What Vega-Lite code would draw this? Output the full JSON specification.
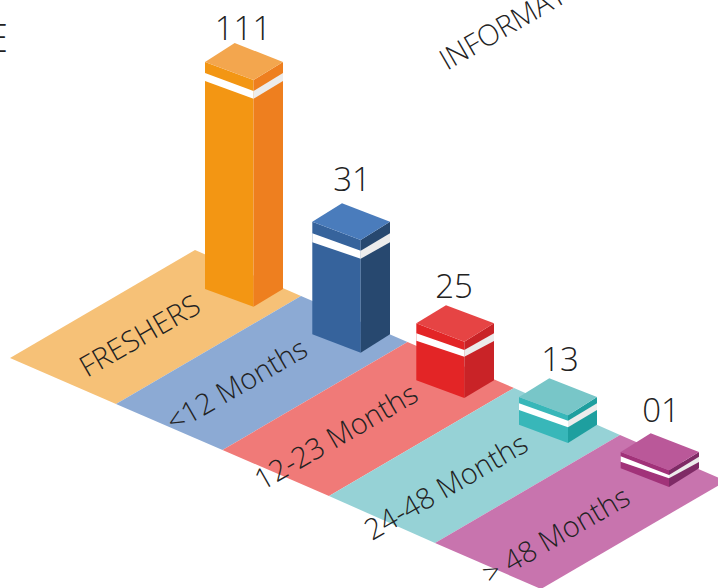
{
"$schema":"https://vega.github.io/schema/vega-lite/v6.json",
"width":718,"height":588,"padding":0,"autosize":"none","background":"white",
"config":{"view":{"stroke":null},"text":{"font":"Open Sans","color":"#333333"}},
"layer":[
{"data":{"values":[
{"s":"f1","p":"floorFreshers","k":1,"x":10,"y":358},{"s":"f1","p":"floorFreshers","k":2,"x":195,"y":250},{"s":"f1","p":"floorFreshers","k":3,"x":301,"y":296},{"s":"f1","p":"floorFreshers","k":4,"x":116,"y":404},
{"s":"f2","p":"floor12","k":1,"x":116,"y":404},{"s":"f2","p":"floor12","k":2,"x":301,"y":296},{"s":"f2","p":"floor12","k":3,"x":407.5,"y":342},{"s":"f2","p":"floor12","k":4,"x":222.5,"y":450},
{"s":"f3","p":"floor23","k":1,"x":222.5,"y":450},{"s":"f3","p":"floor23","k":2,"x":407.5,"y":342},{"s":"f3","p":"floor23","k":3,"x":514,"y":388},{"s":"f3","p":"floor23","k":4,"x":329,"y":496},
{"s":"f4","p":"floor48","k":1,"x":329,"y":496},{"s":"f4","p":"floor48","k":2,"x":514,"y":388},{"s":"f4","p":"floor48","k":3,"x":620,"y":435},{"s":"f4","p":"floor48","k":4,"x":435,"y":543},
{"s":"f5","p":"floorOver","k":1,"x":435,"y":543},{"s":"f5","p":"floorOver","k":2,"x":620,"y":435},{"s":"f5","p":"floorOver","k":3,"x":726,"y":481},{"s":"f5","p":"floorOver","k":4,"x":541,"y":589},

{"s":"a1","p":"orangeFront","k":1,"x":205,"y":62},{"s":"a1","p":"orangeFront","k":2,"x":253.5,"y":80},{"s":"a1","p":"orangeFront","k":3,"x":253.5,"y":306.7},{"s":"a1","p":"orangeFront","k":4,"x":205,"y":289},
{"s":"a2","p":"orangeSide","k":1,"x":253.5,"y":80},{"s":"a2","p":"orangeSide","k":2,"x":283,"y":62},{"s":"a2","p":"orangeSide","k":3,"x":283,"y":289},{"s":"a2","p":"orangeSide","k":4,"x":253.5,"y":306.7},
{"s":"a3","p":"orangeTop","k":1,"x":234.7,"y":43},{"s":"a3","p":"orangeTop","k":2,"x":283,"y":62},{"s":"a3","p":"orangeTop","k":3,"x":253.5,"y":80},{"s":"a3","p":"orangeTop","k":4,"x":205,"y":62},
{"s":"a4","p":"bandFront","k":1,"x":205,"y":73},{"s":"a4","p":"bandFront","k":2,"x":253.5,"y":91},{"s":"a4","p":"bandFront","k":3,"x":253.5,"y":98.7},{"s":"a4","p":"bandFront","k":4,"x":205,"y":81},
{"s":"a5","p":"bandSide","k":1,"x":253.5,"y":91},{"s":"a5","p":"bandSide","k":2,"x":283,"y":73},{"s":"a5","p":"bandSide","k":3,"x":283,"y":81},{"s":"a5","p":"bandSide","k":4,"x":253.5,"y":98.7},

{"s":"b1","p":"blueFront","k":1,"x":312.3,"y":221.7},{"s":"b1","p":"blueFront","k":2,"x":360.7,"y":240},{"s":"b1","p":"blueFront","k":3,"x":360.7,"y":352.7},{"s":"b1","p":"blueFront","k":4,"x":312.3,"y":334.3},
{"s":"b2","p":"blueSide","k":1,"x":360.7,"y":240},{"s":"b2","p":"blueSide","k":2,"x":390,"y":221.7},{"s":"b2","p":"blueSide","k":3,"x":390,"y":334.3},{"s":"b2","p":"blueSide","k":4,"x":360.7,"y":352.7},
{"s":"b3","p":"blueTop","k":1,"x":342,"y":203.3},{"s":"b3","p":"blueTop","k":2,"x":390,"y":221.7},{"s":"b3","p":"blueTop","k":3,"x":360.7,"y":240},{"s":"b3","p":"blueTop","k":4,"x":312.3,"y":221.7},
{"s":"b4","p":"bandFront","k":1,"x":312.3,"y":233.3},{"s":"b4","p":"bandFront","k":2,"x":360.7,"y":250.7},{"s":"b4","p":"bandFront","k":3,"x":360.7,"y":258.7},{"s":"b4","p":"bandFront","k":4,"x":312.3,"y":242.3},
{"s":"b5","p":"bandSide","k":1,"x":360.7,"y":250.7},{"s":"b5","p":"bandSide","k":2,"x":390,"y":233.3},{"s":"b5","p":"bandSide","k":3,"x":390,"y":242.3},{"s":"b5","p":"bandSide","k":4,"x":360.7,"y":258.7},

{"s":"c1","p":"redFront","k":1,"x":416.3,"y":323.3},{"s":"c1","p":"redFront","k":2,"x":464.3,"y":341.7},{"s":"c1","p":"redFront","k":3,"x":464.3,"y":398},{"s":"c1","p":"redFront","k":4,"x":416.3,"y":380.3},
{"s":"c2","p":"redSide","k":1,"x":464.3,"y":341.7},{"s":"c2","p":"redSide","k":2,"x":494,"y":323.3},{"s":"c2","p":"redSide","k":3,"x":494,"y":380.3},{"s":"c2","p":"redSide","k":4,"x":464.3,"y":398},
{"s":"c3","p":"redTop","k":1,"x":446,"y":305.3},{"s":"c3","p":"redTop","k":2,"x":494,"y":323.3},{"s":"c3","p":"redTop","k":3,"x":464.3,"y":341.7},{"s":"c3","p":"redTop","k":4,"x":416.3,"y":323.3},
{"s":"c4","p":"bandFront","k":1,"x":416.3,"y":333.3},{"s":"c4","p":"bandFront","k":2,"x":464.3,"y":350},{"s":"c4","p":"bandFront","k":3,"x":464.3,"y":356.7},{"s":"c4","p":"bandFront","k":4,"x":416.3,"y":340.7},
{"s":"c5","p":"bandSide","k":1,"x":464.3,"y":350},{"s":"c5","p":"bandSide","k":2,"x":494,"y":333.3},{"s":"c5","p":"bandSide","k":3,"x":494,"y":341},{"s":"c5","p":"bandSide","k":4,"x":464.3,"y":356.7},

{"s":"d1","p":"tealFront","k":1,"x":519,"y":397},{"s":"d1","p":"tealFront","k":2,"x":568,"y":415.3},{"s":"d1","p":"tealFront","k":3,"x":568,"y":443},{"s":"d1","p":"tealFront","k":4,"x":519,"y":424.7},
{"s":"d2","p":"tealSide","k":1,"x":568,"y":415.3},{"s":"d2","p":"tealSide","k":2,"x":597,"y":397},{"s":"d2","p":"tealSide","k":3,"x":597,"y":424.7},{"s":"d2","p":"tealSide","k":4,"x":568,"y":443},
{"s":"d3","p":"tealTop","k":1,"x":549.3,"y":378.3},{"s":"d3","p":"tealTop","k":2,"x":597,"y":397},{"s":"d3","p":"tealTop","k":3,"x":568,"y":415.3},{"s":"d3","p":"tealTop","k":4,"x":519,"y":397},
{"s":"d4","p":"bandFront","k":1,"x":519,"y":403.3},{"s":"d4","p":"bandFront","k":2,"x":568,"y":420.7},{"s":"d4","p":"bandFront","k":3,"x":568,"y":427.3},{"s":"d4","p":"bandFront","k":4,"x":519,"y":410},
{"s":"d5","p":"bandSide","k":1,"x":568,"y":420.7},{"s":"d5","p":"bandSide","k":2,"x":597,"y":403.3},{"s":"d5","p":"bandSide","k":3,"x":597,"y":410},{"s":"d5","p":"bandSide","k":4,"x":568,"y":427.3},

{"s":"e1","p":"purpleFront","k":1,"x":620.7,"y":452},{"s":"e1","p":"purpleFront","k":2,"x":669,"y":470.3},{"s":"e1","p":"purpleFront","k":3,"x":669,"y":487},{"s":"e1","p":"purpleFront","k":4,"x":620.7,"y":468.3},
{"s":"e2","p":"purpleSide","k":1,"x":669,"y":470.3},{"s":"e2","p":"purpleSide","k":2,"x":699,"y":452},{"s":"e2","p":"purpleSide","k":3,"x":699,"y":468.3},{"s":"e2","p":"purpleSide","k":4,"x":669,"y":487},
{"s":"e3","p":"purpleTop","k":1,"x":650.7,"y":433.3},{"s":"e3","p":"purpleTop","k":2,"x":699,"y":452},{"s":"e3","p":"purpleTop","k":3,"x":669,"y":470.3},{"s":"e3","p":"purpleTop","k":4,"x":620.7,"y":452},
{"s":"e4","p":"bandFront","k":1,"x":620.7,"y":456.3},{"s":"e4","p":"bandFront","k":2,"x":669,"y":475},{"s":"e4","p":"bandFront","k":3,"x":669,"y":478.3},{"s":"e4","p":"bandFront","k":4,"x":620.7,"y":461.7},
{"s":"e5","p":"bandSide","k":1,"x":669,"y":475},{"s":"e5","p":"bandSide","k":2,"x":699,"y":456.7},{"s":"e5","p":"bandSide","k":3,"x":699,"y":462},{"s":"e5","p":"bandSide","k":4,"x":669,"y":478.3}
]},
"mark":{"type":"line","clip":true,"strokeWidth":0,"interpolate":"linear-closed"},
"encoding":{
"x":{"field":"x","type":"quantitative","scale":{"domain":[0,718],"nice":false,"zero":false},"axis":null},
"y":{"field":"y","type":"quantitative","scale":{"domain":[0,588],"reverse":true,"nice":false,"zero":false},"axis":null},
"detail":{"field":"s"},
"order":{"field":"k","type":"quantitative"},
"fill":{"field":"p","type":"nominal","legend":null,"scale":{
"domain":["floorFreshers","floor12","floor23","floor48","floorOver","orangeFront","orangeSide","orangeTop","blueFront","blueSide","blueTop","redFront","redSide","redTop","tealFront","tealSide","tealTop","purpleFront","purpleSide","purpleTop","bandFront","bandSide"],
"range":["#f6c177","#8caad4","#f07a78","#96d2d6","#c874ae","#f39613","#ee7f1f","#f3a64e","#36639c","#27486f","#4a7cbc","#e32526","#c92327","#e64444","#38b7b9","#1e9f9f","#78c6c8","#a13279","#7f2b66","#ba5899","#ffffff","#ececec"]}}
}},
{"data":{"values":[
{"t":"111","x":243,"y":40},{"t":"31","x":352,"y":191},{"t":"25","x":454,"y":298},{"t":"13","x":560,"y":371},{"t":"01","x":661,"y":422}
]},
"mark":{"type":"text","fontSize":33,"align":"center","baseline":"alphabetic","fontWeight":300,"color":"#222222"},
"encoding":{"x":{"field":"x","type":"quantitative","scale":{"domain":[0,718],"nice":false,"zero":false},"axis":null},
"y":{"field":"y","type":"quantitative","scale":{"domain":[0,588],"reverse":true,"nice":false,"zero":false},"axis":null},
"text":{"field":"t"}}},
{"data":{"values":[
{"t":"FRESHERS","x":87,"y":378},{"t":"<12 Months","x":174,"y":433},{"t":"12-23 Months","x":262,"y":491},{"t":"24-48 Months","x":372,"y":541},{"t":"> 48 Months","x":490,"y":585},{"t":"INFORMATION","x":447,"y":71}
]},
"mark":{"type":"text","fontSize":29,"fontWeight":300,"align":"left","baseline":"alphabetic","angle":330,"color":"#222222"},
"encoding":{"x":{"field":"x","type":"quantitative","scale":{"domain":[0,718],"nice":false,"zero":false},"axis":null},
"y":{"field":"y","type":"quantitative","scale":{"domain":[0,588],"reverse":true,"nice":false,"zero":false},"axis":null},
"text":{"field":"t"}}},
{"data":{"values":[{"t":"E","x":8,"y":52}]},
"mark":{"type":"text","fontSize":39,"fontWeight":300,"align":"right","baseline":"alphabetic","color":"#222222"},
"encoding":{"x":{"field":"x","type":"quantitative","scale":{"domain":[0,718],"nice":false,"zero":false},"axis":null},
"y":{"field":"y","type":"quantitative","scale":{"domain":[0,588],"reverse":true,"nice":false,"zero":false},"axis":null},
"text":{"field":"t"}}}
]
}
